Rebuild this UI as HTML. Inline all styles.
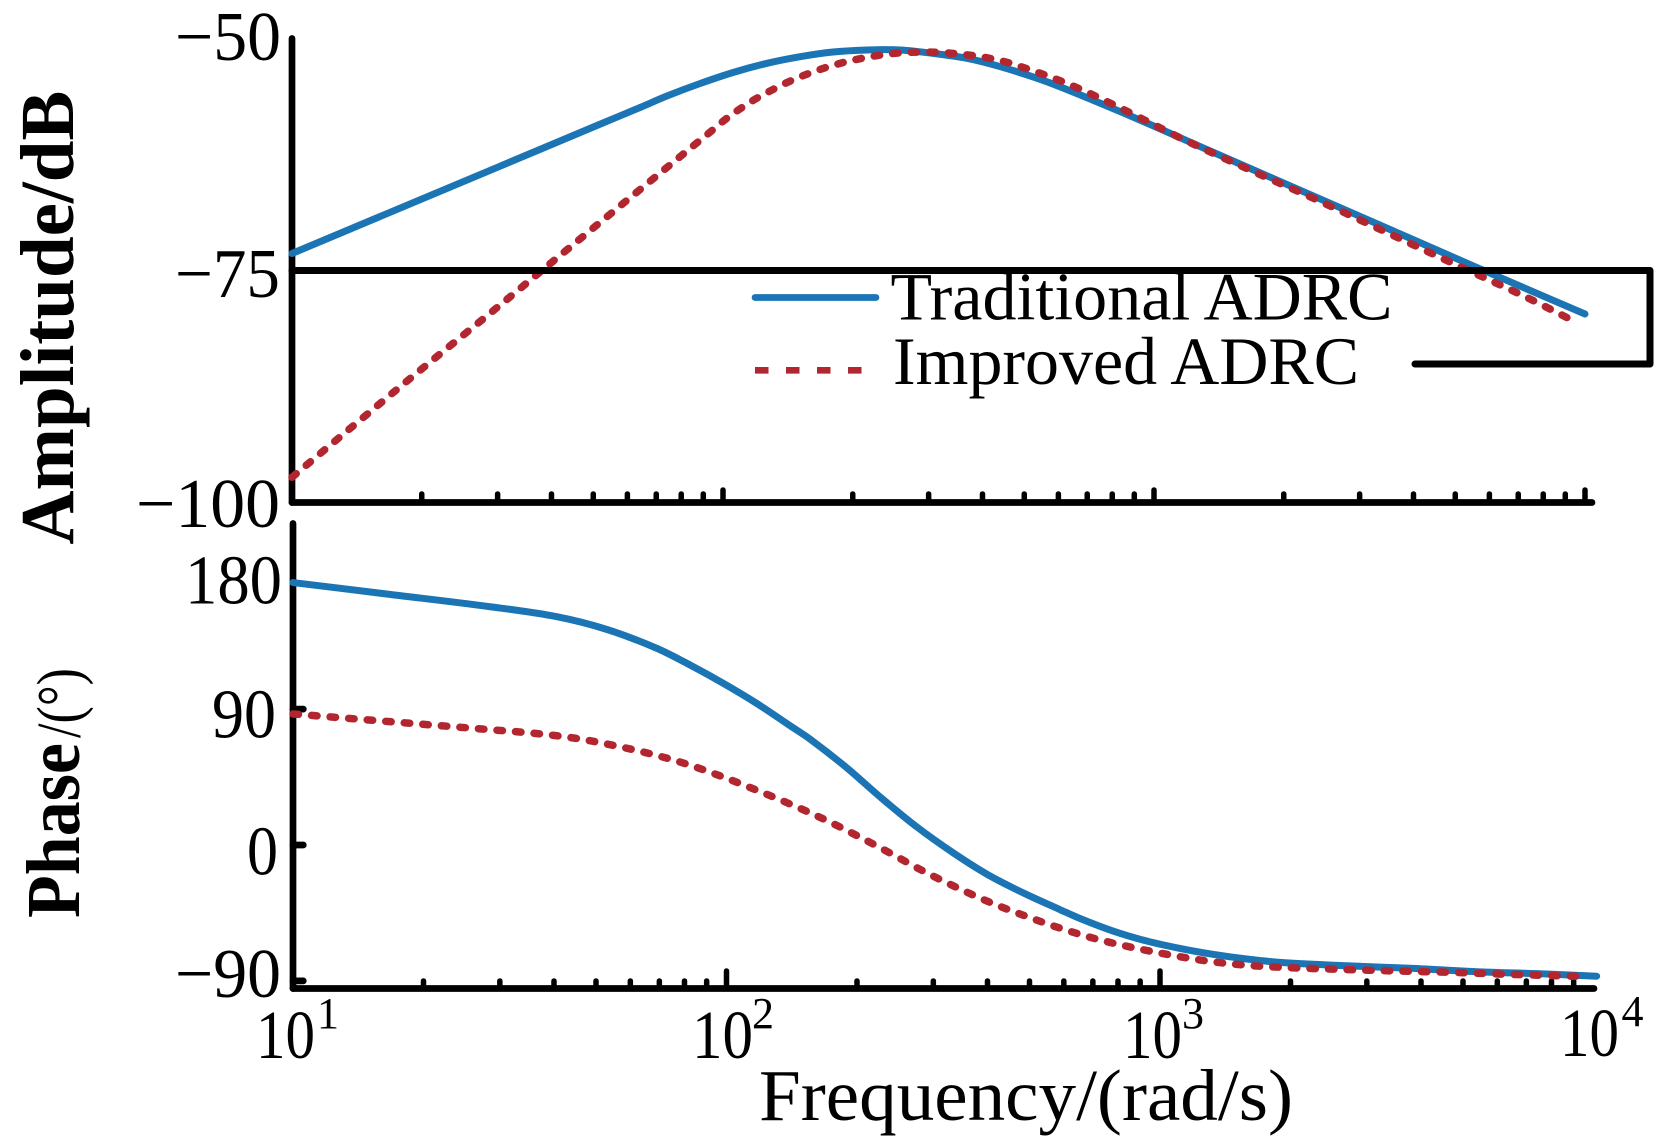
<!DOCTYPE html>
<html lang="en">
<head>
<meta charset="utf-8">
<title>Bode diagram: Traditional ADRC vs Improved ADRC</title>
<style>
html,body{margin:0;padding:0;background:#fff;width:1670px;height:1146px;overflow:hidden}
svg{display:block}
text{font-family:"Liberation Serif",serif;fill:#000}
</style>
</head>
<body>
<svg id="chart" width="1670" height="1146" viewBox="0 0 1670 1146" xmlns="http://www.w3.org/2000/svg">
  <rect width="1670" height="1146" fill="#fff"/>
  <g id="marks"></g>
  <polyline points="292,270.5 1650,270.5 1650,364 1415,364" fill="none" stroke="#000" stroke-width="7" stroke-linecap="round" stroke-linejoin="round"/>
  <line x1="755" y1="297.5" x2="876" y2="297.5" stroke="#1b75b5" stroke-width="6.7" stroke-linecap="round"/>
  <line x1="755" y1="370.3" x2="862" y2="370.3" stroke="#b2262f" stroke-width="6.7" stroke-dasharray="13.5 17.5"/>
  <text x="890.5" y="319.3" font-size="68" textLength="502" lengthAdjust="spacingAndGlyphs">Traditional ADRC</text>
  <text x="893" y="384" font-size="68" textLength="466" lengthAdjust="spacingAndGlyphs">Improved ADRC</text>

  <text x="175" y="60" font-size="70" textLength="106" lengthAdjust="spacingAndGlyphs">−50</text>
  <text x="175" y="297" font-size="70" textLength="105" lengthAdjust="spacingAndGlyphs">−75</text>
  <text x="136" y="527" font-size="70" textLength="144" lengthAdjust="spacingAndGlyphs">−100</text>
  <text x="185" y="603.3" font-size="70" textLength="97" lengthAdjust="spacingAndGlyphs">180</text>
  <text x="212" y="737.5" font-size="70" textLength="64" lengthAdjust="spacingAndGlyphs">90</text>
  <text x="247" y="874.5" font-size="70" textLength="31" lengthAdjust="spacingAndGlyphs">0</text>
  <text x="175" y="997" font-size="70" textLength="106" lengthAdjust="spacingAndGlyphs">−90</text>

  <text x="256" y="1058" font-size="69" textLength="59" lengthAdjust="spacingAndGlyphs">10</text>
  <text x="317" y="1028" font-size="44">1</text>
  <text x="692" y="1058" font-size="69" textLength="61" lengthAdjust="spacingAndGlyphs">10</text>
  <text x="752" y="1028" font-size="44">2</text>
  <text x="1123" y="1058" font-size="69" textLength="59" lengthAdjust="spacingAndGlyphs">10</text>
  <text x="1182" y="1028" font-size="44">3</text>
  <text x="1560" y="1056" font-size="69" textLength="59" lengthAdjust="spacingAndGlyphs">10</text>
  <text x="1621.5" y="1026" font-size="44">4</text>

  <text x="759" y="1120" font-size="73" textLength="534" lengthAdjust="spacingAndGlyphs">Frequency/(rad/s)</text>
  <text transform="translate(73,544.6) rotate(-90)" font-size="76" font-weight="bold" textLength="454" lengthAdjust="spacingAndGlyphs">Amplitude/dB</text>
  <text transform="translate(79,918) rotate(-90)" font-size="76" font-weight="bold" textLength="175" lengthAdjust="spacingAndGlyphs">Phase</text>
  <text transform="translate(80,738) rotate(-90)" font-size="62" textLength="70" lengthAdjust="spacingAndGlyphs">/(°)</text>
</svg>
<script>
// Top panel: amplitude (dB)
const ampFreqTraditional = [10, 17.8, 30.4, 51.8, 64.2, 74.1, 88.5, 105.5, 126.5, 151, 180, 216, 257, 307, 368, 440, 568, 871, 1334, 2046, 3127, 5530, 10000];
const ampTraditional = [-73.34, -68.49, -63.99, -59.5, -57.71, -56.48, -55.14, -53.96, -52.98, -52.27, -51.77, -51.55, -51.55, -51.91, -52.44, -53.34, -55.0, -58.51, -62.26, -66.0, -69.71, -74.71, -79.82];
const ampFreqImproved = [10, 13.7, 20, 29.6, 40.5, 64.2, 94.3, 102, 110.5, 120.4, 143.8, 174, 210, 256, 313, 382, 423, 466, 618, 809, 1156, 1671, 2388, 3436, 4943, 7145, 9354];
const ampImproved = [-97.3, -92.0, -85.7, -79.3, -74.1, -66.49, -60.17, -58.87, -57.73, -56.66, -54.84, -53.4, -52.44, -51.87, -51.8, -52.16, -52.52, -53.0, -55.0, -57.45, -61.0, -64.4, -67.6, -71.0, -74.4, -77.8, -80.5];

// Bottom panel: phase (degrees)
const phaseFreqTraditional = [10, 16.7, 28.5, 40.6, 52.9, 69, 82.4, 98.3, 117.4, 140, 155.8, 188.4, 227.7, 275, 333, 402, 486, 588, 654, 779.4, 932, 1112, 1325, 1585, 1892, 2696, 3834, 5472, 7800, 10170];
const phaseTraditional = [173.8, 166, 157.8, 151.2, 142.8, 130.3, 119.2, 107.1, 93.8, 79.1, 70.2, 51.7, 31.1, 11.9, -5.1, -19.9, -32, -42.8, -48.7, -57, -63.6, -68.5, -72.4, -75.5, -77.7, -80, -81.7, -84, -85.4, -86.9];
const phaseFreqImproved = [10, 16.7, 27.3, 36.8, 45, 54.4, 66.1, 79.9, 96.4, 116, 140, 167.5, 200, 239, 284, 339, 407, 489, 590, 714.5, 868, 1055, 1282, 1562, 1905, 2565, 3454, 4667, 6310, 9309];
const phaseImproved = [86.8, 81.7, 76.8, 73.7, 70.6, 66.2, 60.7, 54.1, 45.9, 36.9, 27.2, 17.2, 6.2, -5.5, -17.2, -28, -38.2, -47, -55.2, -62.3, -68, -72.8, -76.8, -79.5, -81, -82.3, -83.4, -84.3, -85.6, -87];

// Axis ticks
const minorMultipliers = [2, 3, 4, 5, 6, 7, 8, 9];
const topMajorFreqs = [100, 1000, 10000];
const bottomMajorFreqs = [100, 1000];
const decades = [10, 100, 1000];
const phaseTicks = [90, 0, -90];

const NS = 'http://www.w3.org/2000/svg';
const marks = document.getElementById('marks');

// Axis functions
function xTop(f) { return 292 + 431 * (Math.log10(f) - 1); }
function xBottom(f) { return 293 + 433.5 * (Math.log10(f) - 1); }
function yAmp(db) { return 35.5 + (-50 - db) * 9.34; }
function yPhase(p) { return 845 - p * 1.51; }

// Hermite spline with finite-difference slopes, robust to uneven point spacing
function smoothPath(xs, ys) {
  const n = xs.length;
  const slope = [];
  for (let i = 0; i < n; i++) {
    const a = Math.max(i - 1, 0), b = Math.min(i + 1, n - 1);
    slope.push((ys[b] - ys[a]) / (xs[b] - xs[a]));
  }
  let d = 'M' + xs[0].toFixed(2) + ' ' + ys[0].toFixed(2);
  for (let i = 0; i < n - 1; i++) {
    const h = (xs[i + 1] - xs[i]) / 3;
    d += 'C' + (xs[i] + h).toFixed(2) + ' ' + (ys[i] + slope[i] * h).toFixed(2) + ' ' + (xs[i + 1] - h).toFixed(2) + ' ' + (ys[i + 1] - slope[i + 1] * h).toFixed(2) + ' ' + xs[i + 1].toFixed(2) + ' ' + ys[i + 1].toFixed(2);
  }
  return d;
}

function axisLine(x1, y1, x2, y2, width) {
  const el = document.createElementNS(NS, 'line');
  el.setAttribute('x1', x1);
  el.setAttribute('y1', y1);
  el.setAttribute('x2', x2);
  el.setAttribute('y2', y2);
  el.setAttribute('stroke', '#000');
  el.setAttribute('stroke-width', width);
  el.setAttribute('stroke-linecap', 'round');
  marks.appendChild(el);
  return el;
}

function curve(freqs, values, xFn, yFn, color, dashed) {
  const el = document.createElementNS(NS, 'path');
  el.setAttribute('d', smoothPath(freqs.map(xFn), values.map(yFn)));
  el.setAttribute('fill', 'none');
  el.setAttribute('stroke', color);
  el.setAttribute('stroke-linejoin', 'round');
  el.setAttribute('stroke-linecap', 'round');
  if (dashed) {
    el.setAttribute('stroke-width', '7.5');
    el.setAttribute('stroke-dasharray', '5.5 13.1');
  } else {
    el.setAttribute('stroke-width', '7');
  }
  marks.appendChild(el);
  return el;
}

// Axes
let axisEl = axisLine(292, 38.5, 292, 502.5, 6.7);


axisEl = axisLine(292, 502.5, 1592, 502.5, 6.7);


axisEl = axisLine(293, 523.5, 293, 988.5, 6.7);


axisEl = axisLine(293, 988.5, 1594, 988.5, 6.7);



// X ticks, both panels
decades.forEach(function (dec) {
  minorMultipliers.forEach(function (m) {
    const f = dec * m;
    const tTop = axisLine(xTop(f), 502.5, xTop(f), 494, 5.5);
    
    
    const tBot = axisLine(xBottom(f), 988.5, xBottom(f), 981, 5.5);
    
    
  });
});
topMajorFreqs.forEach(function (f) {
  const t = axisLine(xTop(f), 502.5, xTop(f), 490, 5.5);
  
  
});
bottomMajorFreqs.forEach(function (f) {
  const t = axisLine(xBottom(f), 988.5, xBottom(f), 971, 5.5);
  
  
});
phaseTicks.forEach(function (p) {
  const t = axisLine(293, yPhase(p), 303.3, yPhase(p), 6.7);
  
  
});

// Series
let lineEl = curve(ampFreqTraditional, ampTraditional, xTop, yAmp, '#1b75b5', false);


lineEl = curve(ampFreqImproved, ampImproved, xTop, yAmp, '#b2262f', true);


lineEl = curve(phaseFreqTraditional, phaseTraditional, xBottom, yPhase, '#1b75b5', false);


lineEl = curve(phaseFreqImproved, phaseImproved, xBottom, yPhase, '#b2262f', true);


</script>
</body>
</html>
